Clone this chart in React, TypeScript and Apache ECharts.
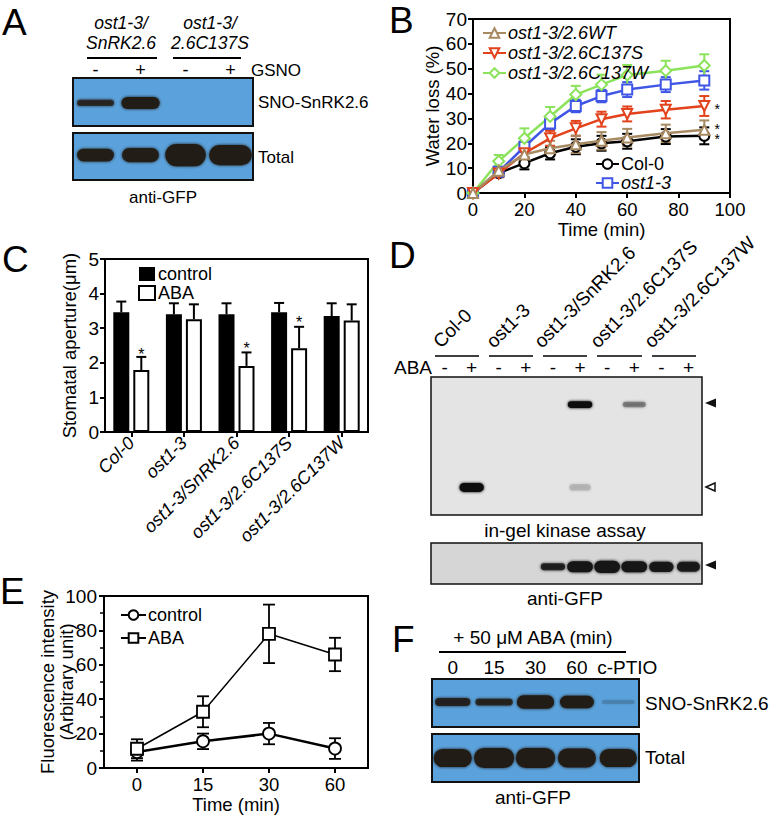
import React, { useEffect, useRef } from 'react';
import * as echarts from 'echarts';

const FONT = 'Liberation Sans, Arial, Helvetica, sans-serif';
const BLUE = '#5ba2dc';

// ---------- Panel B: water loss ----------
const bTimes = [0, 10, 20, 30, 40, 50, 60, 75, 90];
const bCol0 = [0, 8, 12, 16, 18.6, 20, 20.8, 22.7, 23];
const bCol0Err = [0, 1.5, 2.5, 2.5, 3, 3, 3, 3, 3.4];
const bWT = [0, 9, 15.5, 18, 19.6, 21, 22.3, 24, 25.4];
const bWTErr = [0, 1.5, 2.5, 3, 3.5, 3.5, 3.5, 3.5, 3.8];
const bC137S = [0, 7.8, 16, 22, 26, 29.7, 31.8, 33.5, 35];
const bC137SErr = [0, 1.5, 2.5, 3, 3, 3, 3, 3.5, 4];
const bC137W = [0, 12.8, 22, 30.8, 39.6, 43.6, 47.5, 49.2, 51.3];
const bC137WErr = [0, 2.5, 4, 3.8, 3.5, 4, 4, 4, 4.5];
const bOst13 = [0, 8.5, 18.6, 28, 35, 39, 41.6, 43.6, 45.3];
const bOst13Err = [0, 1.5, 2, 2.5, 2.5, 2.5, 3, 3, 3.7];
const bStarX = [95, 95];
const bStarY = [33.8, 23.8];
const bStarText = ['*', '*\n*'];

// ---------- Panel C: stomatal aperture ----------
const cGenotypes = ['Col-0', 'ost1-3', 'ost1-3/SnRK2.6', 'ost1-3/2.6C137S', 'ost1-3/2.6C137W'];
const cControl = [3.46, 3.4, 3.4, 3.46, 3.35];
const cControlErr = [0.31, 0.32, 0.32, 0.27, 0.37];
const cABA = [1.79, 3.26, 1.91, 2.42, 3.22];
const cABAErr = [0.38, 0.43, 0.39, 0.62, 0.47];
const cStarCats = [0, 2, 3];
const cStarY = [2.25, 2.42, 3.17];

// ---------- Panel E: fluorescence ----------
const eTimes = ['0', '15', '30', '60'];
const eControl = [9.3, 15.5, 20, 11.3];
const eControlErr = [5, 4.5, 6.2, 6];
const eABA = [11.2, 32.7, 78, 66];
const eABAErr = [5.5, 9, 17, 9.7];
const eStarCats = [1, 2, 3];
const eStarY = [45.5, 54, 78.5];

// ---------- Blots: [lane, position from top (0-1), intensity, width fraction, thickness fraction] ----------
const aLanes = ['-', '+', '-', '+'];
const aSnoBands = [
  [0, 0.52, 0.8, 0.82, 0.13],
  [1, 0.52, 1, 0.85, 0.25],
];
const aTotalBands = [
  [0, 0.47, 0.95, 0.82, 0.27],
  [1, 0.47, 0.95, 0.82, 0.3],
  [2, 0.47, 1, 0.9, 0.47],
  [3, 0.47, 1, 0.95, 0.43],
];
const dLanes = ['-', '+', '-', '+', '-', '+', '-', '+', '-', '+'];
const dGroups = ['Col-0', 'ost1-3', 'ost1-3/SnRK2.6', 'ost1-3/2.6C137S', 'ost1-3/2.6C137W'];
const dKinaseBands = [
  [5, 0.2, 1, 0.9, 0.05],
  [7, 0.2, 0.35, 0.85, 0.04],
  [1, 0.8, 1, 0.9, 0.065],
  [5, 0.8, 0.12, 0.8, 0.05],
];
const dGfpBands = [
  [4, 0.58, 0.85, 0.9, 0.17],
  [5, 0.58, 1, 0.95, 0.27],
  [6, 0.58, 1, 0.95, 0.3],
  [7, 0.58, 1, 0.95, 0.27],
  [8, 0.58, 0.95, 0.9, 0.25],
  [9, 0.58, 0.92, 0.85, 0.24],
];
const fLanes = ['0', '15', '30', '60', 'c-PTIO'];
const fSnoBands = [
  [0, 0.48, 0.9, 0.85, 0.17],
  [1, 0.48, 0.85, 0.9, 0.14],
  [2, 0.48, 1, 0.9, 0.28],
  [3, 0.48, 1, 0.82, 0.26],
  [4, 0.48, 0.12, 0.8, 0.08],
];
const fTotalBands = [
  [0, 0.5, 1, 0.92, 0.38],
  [1, 0.5, 1, 0.97, 0.42],
  [2, 0.5, 1, 0.95, 0.42],
  [3, 0.5, 1, 0.92, 0.4],
  [4, 0.5, 1, 0.9, 0.38],
];

function errRender(color: string, capHalf: number, lw: number, offset: number, upOnly: boolean) {
  return (params: any, api: any) => {
    const x = api.value(0);
    const lo = api.value(1);
    const hi = api.value(2);
    const p1 = api.coord([x, lo]);
    const p2 = api.coord([x, hi]);
    const cx = p1[0] + offset;
    const style = { stroke: color, lineWidth: lw, fill: 'none' };
    const children: any[] = [
      { type: 'line', shape: { x1: cx, y1: p1[1], x2: cx, y2: p2[1] }, style },
      { type: 'line', shape: { x1: cx - capHalf, y1: p2[1], x2: cx + capHalf, y2: p2[1] }, style },
    ];
    if (!upOnly) {
      children.push({ type: 'line', shape: { x1: cx - capHalf, y1: p1[1], x2: cx + capHalf, y2: p1[1] }, style });
    }
    return { type: 'group', children };
  };
}

function bandRender(color: string) {
  return (params: any, api: any) => {
    const lane = api.value(0);
    const pos = api.value(1);
    const inten = api.value(2);
    const wf = api.value(3);
    const tf = api.value(4);
    const c = api.coord([lane, pos]);
    const laneW = api.size([1, 0])[0];
    const boxH = Math.abs(api.size([0, 1])[1]);
    const w = laneW * wf;
    const h = Math.max(2, boxH * tf);
    return {
      type: 'rect',
      shape: { x: c[0] - w / 2, y: c[1] - h / 2, width: w, height: h, r: h / 2 },
      style: { fill: color, opacity: inten, shadowBlur: 3, shadowColor: color },
    };
  };
}

const pair = (xs: any[], ys: number[]) => xs.map((x, i) => [x, ys[i]]);
const errData = (xs: any[], ys: number[], es: number[], upOnly = false) =>
  xs.map((x, i) => [x, upOnly ? ys[i] : ys[i] - es[i], ys[i] + es[i]]);

const txt = (x: number, y: number, text: string, size: number, align = 'center', extra: any = {}) => {
  const { italic, vAlign, lineHeight, ...rest } = extra;
  return {
    type: 'text',
    x,
    y,
    silent: true,
    ...rest,
    style: {
      text,
      fontSize: size,
      fontFamily: FONT,
      fontWeight: 'normal',
      fontStyle: italic ? 'italic' : 'normal',
      lineHeight: lineHeight || undefined,
      fill: '#000',
      align,
      textAlign: align,
      verticalAlign: vAlign || 'middle',
      textVerticalAlign: vAlign || 'middle',
    },
  };
};
const hline = (x1: number, x2: number, y: number, w = 2) => ({
  type: 'line',
  silent: true,
  shape: { x1, y1: y, x2, y2: y },
  style: { stroke: '#000', lineWidth: w },
});

export default function App() {
  const ref = useRef<HTMLDivElement>(null);
  useEffect(() => {
    if (!ref.current) return;
    const chart = echarts.init(ref.current, null, { renderer: 'svg' });
    const axisText = { color: '#000', fontSize: 19, fontFamily: FONT, fontWeight: 'normal' };
    const nameText = { color: '#000', fontSize: 18.5, fontFamily: FONT, fontWeight: 'normal' };
    const axLine = { show: true, lineStyle: { color: '#000', width: 2 } };
    const axTick = { show: true, length: 5, lineStyle: { color: '#000', width: 2 } };
    const blotX = (gi: number, lanes: string[], show: boolean, size: number, margin: number) => ({
      type: 'category',
      gridIndex: gi,
      data: lanes,
      position: 'top',
      boundaryGap: true,
      axisLine: { show: false },
      axisTick: { show: false },
      splitLine: { show: false },
      axisLabel: {
        show, color: '#000', fontSize: size, fontFamily: FONT, margin, interval: 0,
        formatter: (v: string) => (v === 'c-PTIO' ? '{p|' + v + '}' : v),
        rich: { p: { fontSize: size, fontFamily: FONT, color: '#000', padding: [0, 0, 0, 18] } },
      },
    });
    const blotY = (gi: number) => ({
      type: 'value',
      gridIndex: gi,
      min: 0,
      max: 1,
      inverse: true,
      show: false,
      splitLine: { show: false },
    });
    const blotGrid = (left: number, top: number, width: number, height: number, bg: string, bw = 2) => ({
      left,
      top,
      width,
      height,
      show: true,
      backgroundColor: bg,
      borderColor: '#111',
      borderWidth: bw,
    });

    const bColors = {
      wt: '#a88a62',
      s: '#e2421c',
      w: '#8be35c',
      col: '#000000',
      ost: '#3f55e6',
    };
    const downTri = 'path://M0,0 L10,0 L5,9 Z';
    const lineSeries = (name: string, data: number[], color: string, symbol: string, size: number, z: number) => ({
      name,
      type: 'line',
      xAxisIndex: 0,
      yAxisIndex: 0,
      data: pair(bTimes, data),
      symbol,
      symbolSize: size,
      showAllSymbol: true,
      lineStyle: { color, width: 2.5 },
      itemStyle: { color: '#fff', borderColor: color, borderWidth: 2 },
      z,
    });
    const errSeries = (data: number[], err: number[], color: string, z: number) => ({
      type: 'custom',
      xAxisIndex: 0,
      yAxisIndex: 0,
      data: errData(bTimes, data, err),
      renderItem: errRender(color, 5, 2, 0, false),
      z,
      silent: true,
    });

    const option: any = {
      animation: false,
      backgroundColor: '#fff',
      textStyle: { fontFamily: FONT, fontWeight: 'normal' },
      grid: [
        { left: 473, top: 19, width: 257, height: 174, show: true, borderColor: '#000', borderWidth: 2, backgroundColor: 'transparent' },
        { left: 105, top: 259, width: 263, height: 173, show: true, borderColor: '#000', borderWidth: 2, backgroundColor: 'transparent' },
        { left: 104, top: 596, width: 264, height: 172, show: true, borderColor: '#000', borderWidth: 2, backgroundColor: 'transparent' },
        blotGrid(73, 78, 180, 48, BLUE),
        blotGrid(73, 133, 180, 47, BLUE),
        blotGrid(431, 377, 271, 138, '#e4e4e4', 1.5),
        blotGrid(431, 543, 271, 41, '#d6d6d6', 1.5),
        blotGrid(432, 679, 207, 48, BLUE),
        blotGrid(432, 734, 207, 48, BLUE),
      ],
      xAxis: [
        {
          type: 'value', gridIndex: 0, min: 0, max: 100, interval: 20,
          name: 'Time (min)', nameLocation: 'middle', nameGap: 27, nameMoveOverlap: false,
          nameTextStyle: { ...nameText },
          axisLine: axLine, axisTick: axTick, splitLine: { show: false },
          axisLabel: { ...axisText, fontSize: 18.5, margin: 7 },
        },
        {
          type: 'category', gridIndex: 1, data: cGenotypes, boundaryGap: true,
          axisLine: axLine, axisTick: { ...axTick, alignWithLabel: true },
          axisLabel: { ...axisText, fontSize: 18, fontStyle: 'italic', rotate: 45, margin: 8, interval: 0 },
        },
        {
          type: 'category', gridIndex: 2, data: eTimes, boundaryGap: true,
          name: 'Time (min)', nameLocation: 'middle', nameGap: 27, nameMoveOverlap: false,
          nameTextStyle: { ...nameText },
          axisLine: axLine, axisTick: { ...axTick, alignWithLabel: true },
          axisLabel: { ...axisText, fontSize: 18.5, margin: 7 },
        },
        blotX(3, aLanes, true, 18, -1),
        blotX(4, aLanes, false, 18, 0),
        blotX(5, dLanes, true, 19, 0),
        blotX(6, dLanes, false, 19, 0),
        blotX(7, fLanes, true, 19, 2),
        blotX(8, fLanes, false, 19, 0),
      ],
      yAxis: [
        {
          type: 'value', gridIndex: 0, min: 0, max: 70, interval: 10,
          name: 'Water loss (%)', nameLocation: 'middle', nameGap: 31, nameMoveOverlap: false,
          nameTextStyle: { ...nameText },
          axisLine: axLine, axisTick: axTick, splitLine: { show: false },
          axisLabel: { ...axisText, margin: 6 },
        },
        {
          type: 'value', gridIndex: 1, min: 0, max: 5, interval: 1,
          name: 'Stomatal aperture(μm)', nameLocation: 'middle', nameGap: 26, nameMoveOverlap: false,
          nameTextStyle: { ...nameText },
          axisLine: axLine, axisTick: axTick, splitLine: { show: false },
          axisLabel: { ...axisText, margin: 6 },
        },
        {
          type: 'value', gridIndex: 2, min: 0, max: 100, interval: 20,
          name: 'Fluorescence intensity\n(Arbitrary unit)', nameLocation: 'middle', nameGap: 28, nameMoveOverlap: false,
          nameTextStyle: { ...nameText, lineHeight: 19 },
          axisLine: axLine, axisTick: axTick, splitLine: { show: false },
          minorTick: { show: true, splitNumber: 2, length: 4, lineStyle: { color: '#000', width: 1.5 } },
          axisLabel: { ...axisText, margin: 7 },
        },
        blotY(3), blotY(4), blotY(5), blotY(6), blotY(7), blotY(8),
      ],
      legend: [
        {
          left: 482, top: 24, orient: 'vertical', padding: 0, itemGap: 2,
          itemWidth: 23, itemHeight: 12,
          data: ['ost1-3/2.6WT', 'ost1-3/2.6C137S', 'ost1-3/2.6C137W'],
          textStyle: { color: '#000', fontSize: 18, fontStyle: 'italic', fontFamily: FONT, padding: [0, 0, 0, -3] },
        },
        {
          left: 595, top: 155, orient: 'vertical', padding: 0, itemGap: 1,
          itemWidth: 23, itemHeight: 12,
          data: ['Col-0', 'ost1-3'],
          formatter: (n: string) => (n === 'Col-0' ? '{n|Col-0}' : '{i|' + n + '}'),
          textStyle: {
            color: '#000', fontSize: 18, fontFamily: FONT, padding: [0, 0, 0, -3],
            rich: { n: { fontSize: 18, fontFamily: FONT }, i: { fontSize: 18, fontStyle: 'italic', fontFamily: FONT } },
          },
        },
        {
          left: 138, top: 265, orient: 'vertical', padding: 0, itemGap: 1,
          itemWidth: 16, itemHeight: 14, icon: 'rect',
          data: ['control', 'ABA'],
          textStyle: { color: '#000', fontSize: 18, fontFamily: FONT, padding: [0, 0, 0, -2] },
        },
        {
          left: 120, top: 606, orient: 'vertical', padding: 0, itemGap: 5,
          itemWidth: 25, itemHeight: 12,
          data: ['control ', 'ABA '],
          formatter: (n: string) => n.trim(),
          textStyle: { color: '#000', fontSize: 18, fontFamily: FONT, padding: [0, 0, 0, -3] },
        },
      ],
      series: [
        // Panel B
        errSeries(bCol0, bCol0Err, bColors.col, 2),
        errSeries(bOst13, bOst13Err, bColors.ost, 2),
        errSeries(bC137W, bC137WErr, bColors.w, 2),
        errSeries(bC137S, bC137SErr, bColors.s, 2),
        errSeries(bWT, bWTErr, bColors.wt, 2),
        lineSeries('Col-0', bCol0, bColors.col, 'circle', 10, 3),
        lineSeries('ost1-3', bOst13, bColors.ost, 'rect', 10, 3),
        lineSeries('ost1-3/2.6C137W', bC137W, bColors.w, 'diamond', 11, 3),
        lineSeries('ost1-3/2.6C137S', bC137S, bColors.s, downTri, 10, 4),
        lineSeries('ost1-3/2.6WT', bWT, bColors.wt, 'triangle', 10, 4),
        {
          type: 'custom', xAxisIndex: 0, yAxisIndex: 0, silent: true, z: 5,
          data: bStarX.map((x, i) => [x, bStarY[i], i]),
          renderItem: (params: any, api: any) => {
            const p = api.coord([api.value(0), api.value(1)]);
            return {
              type: 'text', x: p[0], y: p[1],
              style: {
                text: bStarText[api.value(2)], fontSize: 14, fontFamily: FONT, fill: '#000',
                align: 'center', verticalAlign: 'middle', lineHeight: 10,
              },
            };
          },
        },
        // Panel C
        {
          name: 'control', type: 'bar', xAxisIndex: 1, yAxisIndex: 1, data: cControl,
          barWidth: 16, barGap: '25%',
          itemStyle: { color: '#000', borderColor: '#000', borderWidth: 0 },
        },
        {
          name: 'ABA', type: 'bar', xAxisIndex: 1, yAxisIndex: 1, data: cABA,
          barWidth: 16, barGap: '25%',
          itemStyle: { color: '#fff', borderColor: '#000', borderWidth: 2 },
        },
        {
          type: 'custom', xAxisIndex: 1, yAxisIndex: 1, silent: true, z: 3,
          data: errData(cControl.map((_, i) => i), cControl, cControlErr, true),
          renderItem: errRender('#000', 5, 2, -10, true),
        },
        {
          type: 'custom', xAxisIndex: 1, yAxisIndex: 1, silent: true, z: 3,
          data: errData(cABA.map((_, i) => i), cABA, cABAErr, true),
          renderItem: errRender('#000', 5, 2, 10, true),
        },
        {
          type: 'custom', xAxisIndex: 1, yAxisIndex: 1, silent: true, z: 4,
          data: pair(cStarCats, cStarY),
          renderItem: (params: any, api: any) => {
            const p = api.coord([api.value(0), api.value(1)]);
            return {
              type: 'text', x: p[0] + 10, y: p[1],
              style: { text: '*', fontSize: 16, fontFamily: FONT, fill: '#000', align: 'center', verticalAlign: 'middle' },
            };
          },
        },
        // Panel E
        {
          type: 'custom', xAxisIndex: 2, yAxisIndex: 2, silent: true, z: 2,
          data: errData(eControl.map((_, i) => i), eControl, eControlErr),
          renderItem: errRender('#000', 6, 1.8, 0, false),
        },
        {
          type: 'custom', xAxisIndex: 2, yAxisIndex: 2, silent: true, z: 2,
          data: errData(eABA.map((_, i) => i), eABA, eABAErr),
          renderItem: errRender('#000', 6, 1.8, 0, false),
        },
        {
          name: 'control ', type: 'line', xAxisIndex: 2, yAxisIndex: 2, data: eControl,
          symbol: 'circle', symbolSize: 12, showAllSymbol: true,
          lineStyle: { color: '#000', width: 2.5 },
          itemStyle: { color: '#fff', borderColor: '#000', borderWidth: 1.8 }, z: 3,
        },
        {
          name: 'ABA ', type: 'line', xAxisIndex: 2, yAxisIndex: 2, data: eABA,
          symbol: 'rect', symbolSize: 12, showAllSymbol: true,
          lineStyle: { color: '#000', width: 1.5 },
          itemStyle: { color: '#fff', borderColor: '#000', borderWidth: 1.8 }, z: 3,
        },
        {
          type: 'scatter', xAxisIndex: 2, yAxisIndex: 2, data: pair(eStarCats, eStarY),
          symbolSize: 1, itemStyle: { opacity: 0 }, silent: true,
          label: { show: true, position: 'inside', formatter: '*', color: '#000', fontSize: 16, fontFamily: FONT },
        },
        // Blots
        { type: 'custom', xAxisIndex: 3, yAxisIndex: 3, data: aSnoBands, renderItem: bandRender('#231d19'), silent: true, clip: true },
        { type: 'custom', xAxisIndex: 4, yAxisIndex: 4, data: aTotalBands, renderItem: bandRender('#231d19'), silent: true, clip: true },
        { type: 'custom', xAxisIndex: 5, yAxisIndex: 5, data: dKinaseBands, renderItem: bandRender('#111111'), silent: true, clip: true },
        { type: 'custom', xAxisIndex: 6, yAxisIndex: 6, data: dGfpBands, renderItem: bandRender('#151515'), silent: true, clip: true },
        { type: 'custom', xAxisIndex: 7, yAxisIndex: 7, data: fSnoBands, renderItem: bandRender('#231d19'), silent: true, clip: true },
        { type: 'custom', xAxisIndex: 8, yAxisIndex: 8, data: fTotalBands, renderItem: bandRender('#231d19'), silent: true, clip: true },
      ],
      graphic: [
        // panel letters
        txt(2, 22, 'A', 37, 'left'),
        txt(389, 20, 'B', 37, 'left'),
        txt(2, 259, 'C', 37, 'left'),
        txt(389, 255, 'D', 37, 'left'),
        txt(0, 591, 'E', 37, 'left'),
        txt(392, 639, 'F', 37, 'left'),
        // panel A
        txt(121, 33, 'ost1-3/\nSnRK2.6', 17.5, 'center', { italic: true, lineHeight: 19.5 }),
        txt(210, 33, 'ost1-3/\n2.6C137S', 17.5, 'center', { italic: true, lineHeight: 19.5 }),
        hline(87, 157, 58),
        hline(173, 241, 58),
        txt(251, 70, 'GSNO', 17, 'left'),
        txt(258, 102, 'SNO-SnRK2.6', 17, 'left'),
        txt(258, 157, 'Total', 17, 'left'),
        txt(163, 197, 'anti-GFP', 17, 'center'),
        // panel D
        ...dGroups.map((g, i) => txt([443, 496, 544, 600, 654][i], 351, g, 19, 'left', { rotation: Math.PI / 4, vAlign: 'bottom' })),
        hline(435, 479, 356, 1.5),
        hline(489, 533, 356, 1.5),
        hline(543, 587, 356, 1.5),
        hline(597, 642, 356, 1.5),
        hline(652, 696, 356, 1.5),
        txt(432, 367, 'ABA', 19, 'right'),
        {
          type: 'polygon', silent: true,
          shape: { points: [[705, 403], [716, 398.5], [716, 407.5]] },
          style: { fill: '#111' },
        },
        {
          type: 'polygon', silent: true,
          shape: { points: [[706, 487], [715, 483], [715, 491]] },
          style: { fill: 'none', stroke: '#111', lineWidth: 1.5 },
        },
        {
          type: 'polygon', silent: true,
          shape: { points: [[705, 565], [716, 560.5], [716, 569.5]] },
          style: { fill: '#111' },
        },
        txt(565, 530, 'in-gel kinase assay', 19, 'center'),
        txt(565, 598, 'anti-GFP', 19, 'center'),
        // panel F
        txt(533, 637, '+ 50 μM ABA (min)', 19, 'center'),
        hline(439, 626, 652),
        txt(645, 703, 'SNO-SnRK2.6', 19, 'left'),
        txt(645, 757, 'Total', 19, 'left'),
        txt(533, 797, 'anti-GFP', 19, 'center'),
      ],
    };
    chart.setOption(option);
    return () => chart.dispose();
  }, []);
  return (
    <div
      ref={ref}
      style={{ position: 'absolute', left: 0, top: 0, width: 777, height: 816, background: '#fff' }}
    />
  );
}
